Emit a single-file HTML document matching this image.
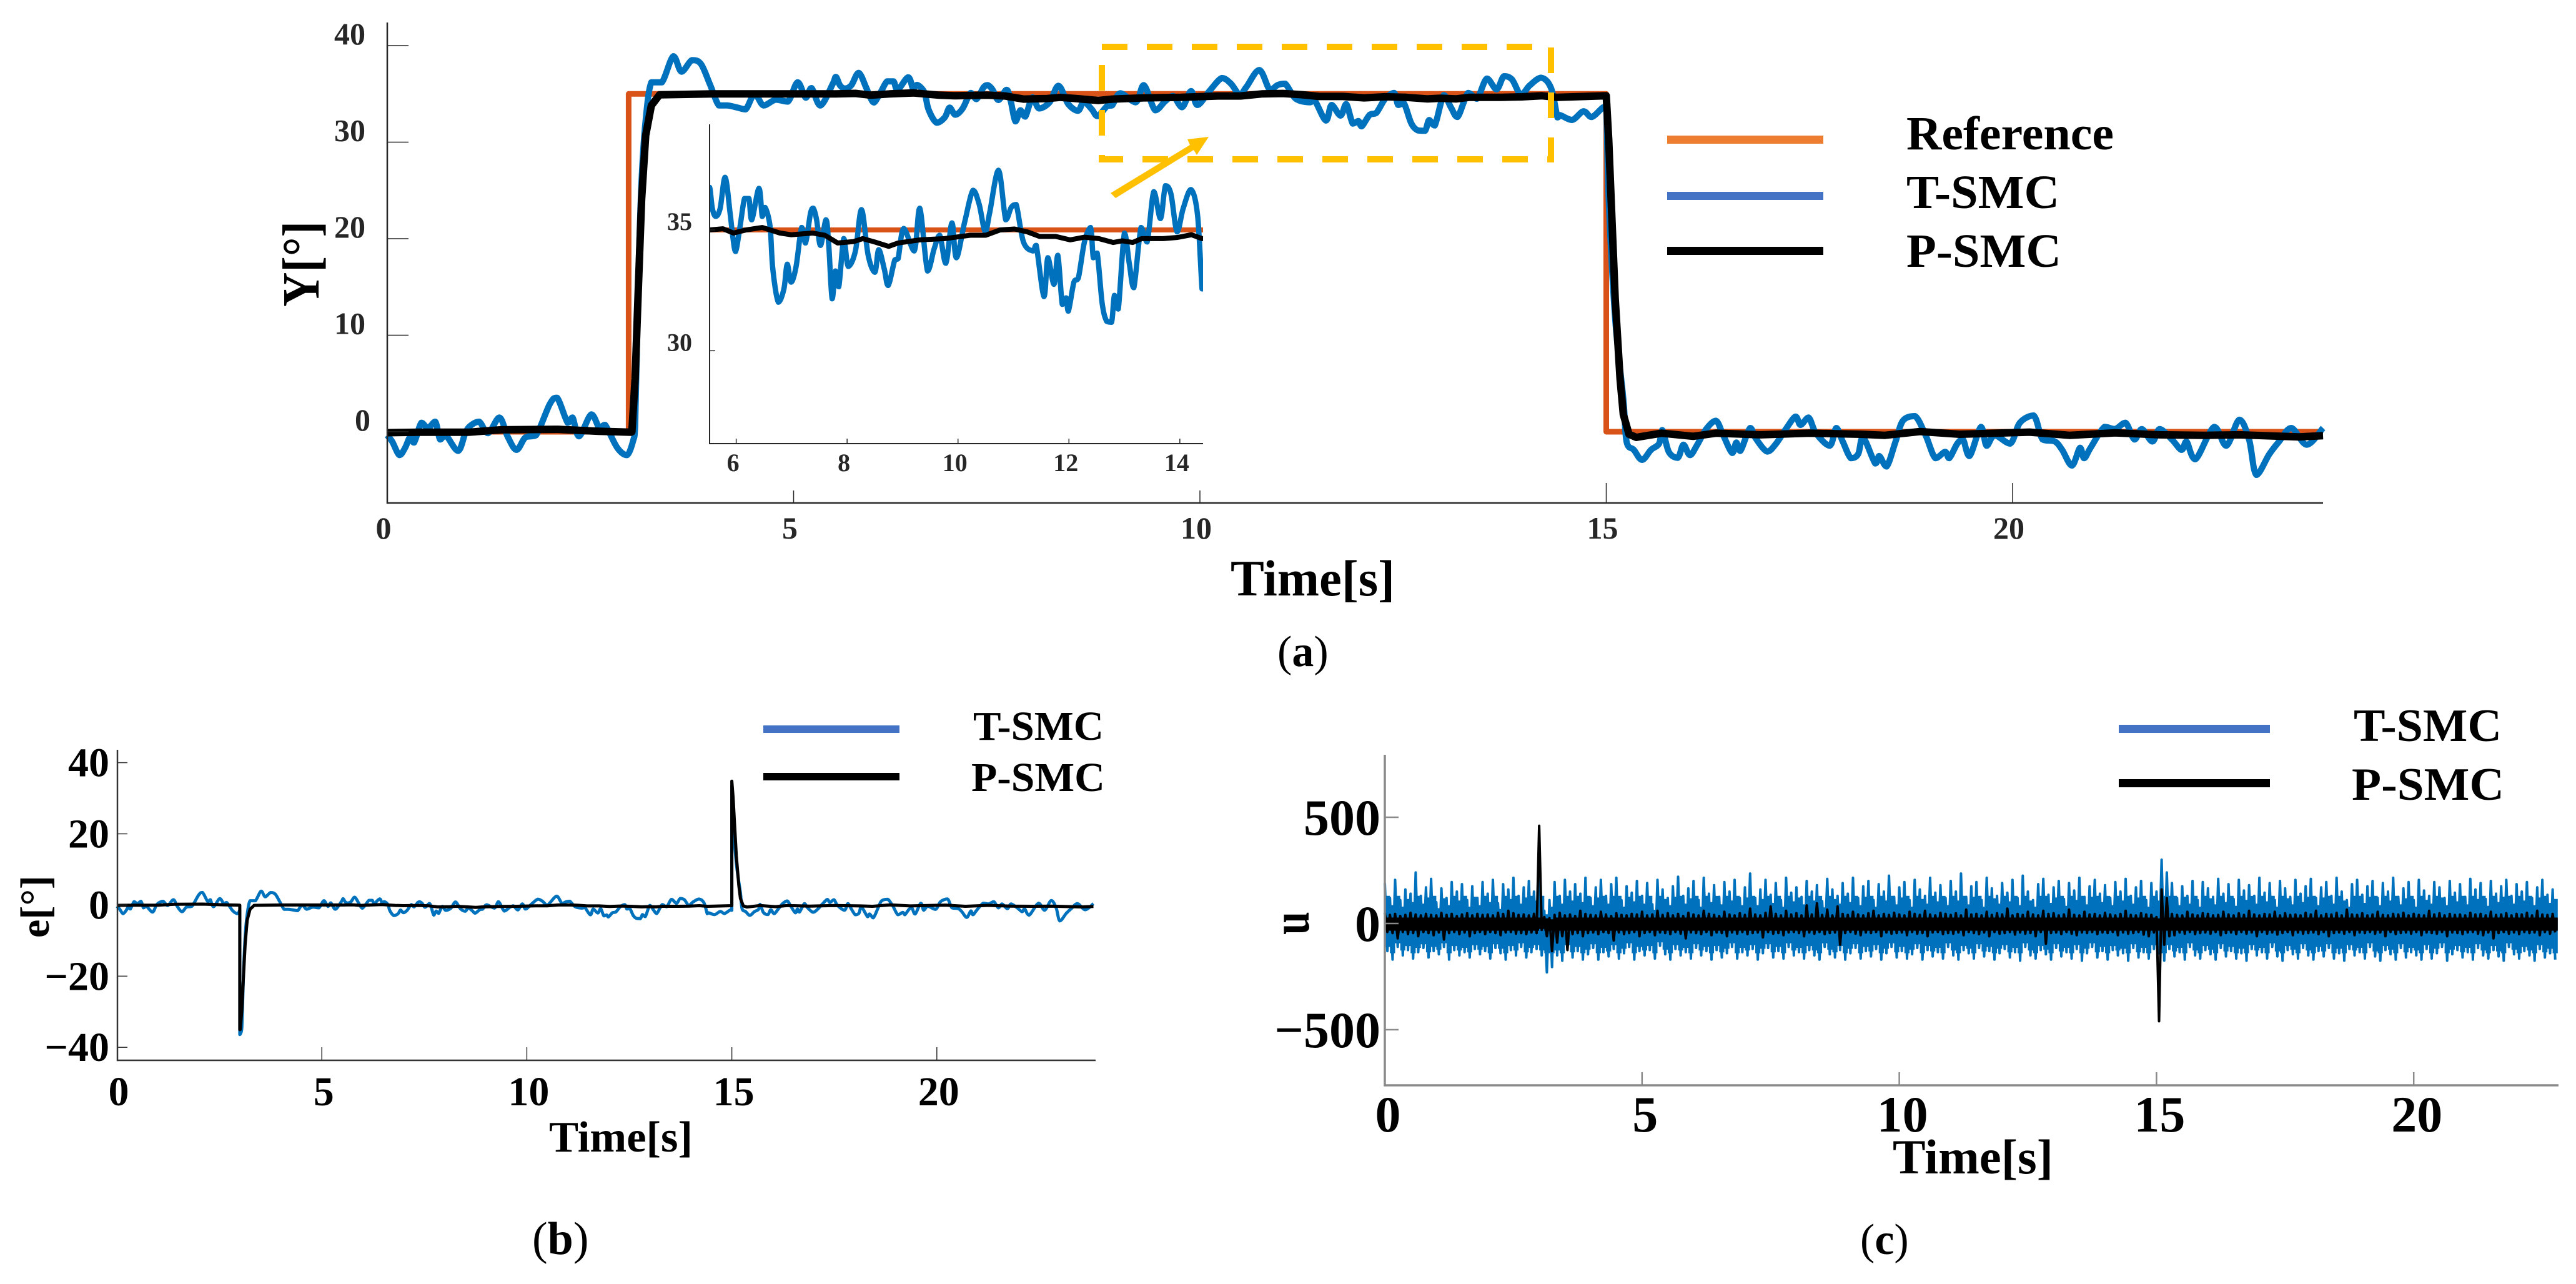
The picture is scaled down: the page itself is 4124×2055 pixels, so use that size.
<!DOCTYPE html>
<html lang="en">
<head>
<meta charset="utf-8">
<title>Y, error and control signal responses for T-SMC and P-SMC</title>
<style>
html,body{margin:0;padding:0;background:#fff;}
svg{display:block;}
text{font-family:"Liberation Serif","Times New Roman",serif;}
.b{font-weight:bold;}
</style>
</head>
<body>
<svg id="figure" xmlns="http://www.w3.org/2000/svg" width="4124" height="2055" viewBox="0 0 4124 2055">
  <rect x="0" y="0" width="4124" height="2055" fill="#fff"/>
  <defs>
    <clipPath id="inset-clip"><rect x="1136" y="199" width="790" height="511"/></clipPath>
  </defs>
  <g id="panel-a"></g>
  <g id="panel-inset"></g>
  <g id="panel-b"></g>
  <g id="panel-c"></g>

  <rect x="1764" y="75" width="719" height="180" fill="none" stroke="#FFC000" stroke-width="10" stroke-dasharray="41 31"/>
  <polygon points="1778,309 1905,232 1901,223 1935,219 1916,248 1911,240 1786,317" fill="#FFC000"/>

  <text class="b" transform="rotate(-90 510 491)" x="510" y="491" font-size="84" textLength="137" lengthAdjust="spacingAndGlyphs" fill="#000">Y[°]</text>
  <text class="b" x="1970" y="953" font-size="82" textLength="263" lengthAdjust="spacingAndGlyphs" fill="#000">Time[s]</text>

  <g>
    <rect x="2669" y="217" width="250" height="13" fill="#ED7D31"/>
    <rect x="2669" y="307" width="250" height="13" fill="#4472C4"/>
    <rect x="2669" y="395" width="250" height="13" fill="#000"/>
    <text class="b" x="3052" y="239" font-size="76" textLength="332" lengthAdjust="spacingAndGlyphs">Reference</text>
    <text class="b" x="3052" y="333" font-size="76" textLength="245" lengthAdjust="spacingAndGlyphs">T-SMC</text>
    <text class="b" x="3052" y="427" font-size="76" textLength="248" lengthAdjust="spacingAndGlyphs">P-SMC</text>
  </g>
  <text x="2045" y="1066" font-size="70">(<tspan class="b">a</tspan>)</text>

  <text class="b" transform="rotate(-90 78 1501)" x="78" y="1501" font-size="66" textLength="100" lengthAdjust="spacingAndGlyphs">e[°]</text>
  <text class="b" x="879" y="1843" font-size="70" textLength="230" lengthAdjust="spacingAndGlyphs">Time[s]</text>
  <g>
    <rect x="1222" y="1161" width="218" height="12" fill="#4472C4"/>
    <rect x="1222" y="1237" width="218" height="12" fill="#000"/>
    <text class="b" x="1558" y="1184" font-size="66" textLength="209" lengthAdjust="spacingAndGlyphs">T-SMC</text>
    <text class="b" x="1555" y="1266" font-size="66" textLength="214" lengthAdjust="spacingAndGlyphs">P-SMC</text>
  </g>
  <text x="852" y="2007" font-size="74">(<tspan class="b">b</tspan>)</text>

  <text class="b" transform="rotate(-90 2095 1496)" x="2095" y="1496" font-size="86" textLength="37" lengthAdjust="spacingAndGlyphs">u</text>
  <text class="b" x="3030" y="1878" font-size="78" textLength="257" lengthAdjust="spacingAndGlyphs">Time[s]</text>
  <g>
    <rect x="3392" y="1160" width="242" height="13" fill="#4472C4"/>
    <rect x="3392" y="1247" width="242" height="13" fill="#000"/>
    <text class="b" x="3768" y="1186" font-size="74" textLength="237" lengthAdjust="spacingAndGlyphs">T-SMC</text>
    <text class="b" x="3765" y="1280" font-size="74" textLength="244" lengthAdjust="spacingAndGlyphs">P-SMC</text>
  </g>
  <text x="2978" y="2007" font-size="70">(<tspan class="b">c</tspan>)</text>
</svg>

<script>
// ---- Reference step ----
const refTimes = [0, 2.97, 2.97, 15, 15, 23.82];
const refValues = [0, 0, 35, 35, 0, 0];

// ---- T-SMC response (angle, degrees) ----
const tsmcTimes = [0,.06,.15,.22,.28,.33,.42,.5,.59,.65,.72,.87,.96,1.02,1.13,1.24,1.38,1.48,1.59,1.7,1.83,2,2.09,2.22,2.28,2.36,2.51,2.61,2.68,2.83,2.95,3.03,
3.05,3.09,3.13,3.18,3.25,3.38,3.52,3.62,3.75,3.86,3.97,4.08,4.19,4.3,4.41,4.52,4.63,4.78,4.93,5.05,5.15,5.22,5.33,5.48,
5.52,5.57,5.63,5.71,5.8,5.89,5.94,5.99,6.07,6.15,6.23,6.28,6.41,6.47,6.52,6.61,6.66,6.76,6.86,6.92,6.99,7.08,7.18,7.25,7.34,7.39,7.45,7.52,7.62,7.67,7.73,7.79,7.85,7.94,8.02,8.15,8.26,8.38,8.5,8.57,8.67,8.74,8.86,8.92,9.02,9.21,9.31,9.45,9.57,9.67,9.78,9.89,9.97,10.12,10.27,10.38,10.49,10.57,10.73,10.86,10.96,11.05,11.18,11.35,11.41,11.55,11.62,11.73,11.8,11.88,11.95,11.99,12.09,12.17,12.28,12.39,12.44,12.51,12.6,12.68,12.77,12.82,12.89,13,13.09,13.17,13.3,13.41,13.53,13.65,13.74,13.84,13.95,14.06,14.2,14.32,14.4,
14.43,14.58,14.72,14.82,14.96,15,15.03,15.11,15.21,15.25,15.34,15.44,15.55,15.65,15.69,15.77,15.88,15.95,16.03,16.12,16.23,16.35,16.44,16.55,16.6,16.65,16.77,16.84,16.98,17.09,17.21,17.33,17.39,17.49,17.58,17.75,17.83,17.91,18.01,18.1,18.16,18.31,18.36,18.45,18.56,18.65,18.8,18.93,19.05,19.17,19.22,19.32,19.39,19.47,19.61,19.68,19.78,19.97,20.09,20.26,20.37,20.52,20.61,20.73,20.83,20.88,20.96,21.13,21.26,21.39,21.5,21.59,21.72,21.81,21.96,22.08,22.14,22.25,22.48,22.63,22.79,22.91,23,23.16,23.28,23.43,23.62,23.82];
const tsmcValues = [-.37,-1.01,-2.42,-1.66,-.58,-1.12,.93,.39,1.04,-.8,-.37,-1.98,-.15,.6,1.04,-.15,1.47,-.47,-1.88,-.58,-.37,2.87,3.52,.93,1.47,-.47,1.79,.39,.71,-1.66,-2.42,-.8,
.57,15.8,26.1,32.3,36.2,36.2,38.9,37.3,38.5,38.1,36,33.8,33.8,33.6,33.4,35,33.8,34.4,34.2,36.2,34.6,35.6,33.8,36,
36.76,35.89,35.56,35.89,37.18,35.7,34.69,34.11,35.15,36.3,36.3,35.42,36.72,35.56,35.93,35.15,33.39,32.01,32.56,33.58,32.84,33.49,35.1,34.46,35.7,35.9,35.42,34.36,35.42,34.32,32.15,33.3,32.65,34.64,33.49,34.13,35.84,33.95,33.25,34.18,33.39,32.7,33.76,33.81,35.06,34.13,35.9,33.3,34.22,34.78,33.62,35.29,33.85,35.33,36.64,36.07,34.92,35.7,37.47,35.42,35.93,36.05,34.5,34.13,34.36,32.24,33.85,32.75,33.95,31.92,32.19,31.64,32.84,33.02,34.5,35.1,33.85,34.04,31.96,31.22,31.18,32.29,31.73,34.87,33.58,32.61,35.1,34.5,36.58,35.47,36.83,36.49,34.92,35.89,36.67,35.61,32.56,
32.8,32.3,33.2,32.6,33.6,33.5,24.1,11.7,3.4,-1.01,-1.88,-2.91,-1.88,-1.23,.17,-2.09,-2.7,-1.34,-2.42,-1.34,.28,1.14,-.37,-2.2,-1.12,-1.98,.39,-.69,-2.05,-1.23,.28,1.57,.71,1.47,-.15,-1.45,.39,-1.01,-2.74,-2.31,-.58,-3.28,-2.52,-3.6,-1.01,1.14,1.62,-.37,-2.74,-2.09,-2.74,-1.23,-.8,-2.52,.5,-1.45,-.37,-1.23,.93,1.68,-.8,-1.01,-1.88,-3.5,-1.66,-2.74,-1.66,.5,.28,.93,-.8,.28,-1.01,.28,-.8,-1.88,-1.01,-2.85,.5,-1.45,1.25,-.8,-4.47,-2.31,-1.01,.39,-1.34,.39];

// ---- P-SMC response (angle, degrees) ----
const psmcTimes = [0,.4,1,1.4,2.1,2.6,3,3.01,3.05,3.09,3.13,3.18,3.25,3.35,4,5,5.52,5.76,5.95,6.18,6.47,6.79,6.99,7.38,7.6,7.83,8.12,8.28,8.5,8.75,8.92,9.31,9.76,10.22,10.5,10.76,11.02,11.25,11.47,11.76,12.02,12.28,12.54,12.8,12.96,13.15,13.31,13.7,13.96,14.21,14.4,15,15.03,15.07,15.11,15.17,15.21,15.28,15.37,15.68,16.07,16.35,16.9,17.5,18.13,18.43,18.86,19.35,20.21,20.7,21.26,21.81,22.36,22.79,23.52,23.82];
const psmcValues = [-.1,-.05,-.05,.2,.25,.05,-.05,0,5.5,15,24.1,30.7,33.8,34.9,35,35,35,35.05,34.87,35,35.1,34.87,34.8,34.87,34.78,34.46,34.52,34.64,34.5,34.32,34.46,34.59,34.64,34.78,34.78,35,35.04,34.92,34.73,34.73,34.59,34.7,34.64,34.48,34.55,34.48,34.64,34.64,34.69,34.8,34.64,34.8,30.3,22,13.8,5.5,1.8,-.26,-.58,-.15,-.47,-.15,-.32,-.15,-.26,-.37,.02,-.26,-.04,-.37,-.11,-.32,-.37,-.32,-.54,-.41];

// ---- Panel (c) control signal, sampled every uStep seconds ----
const uStep = 0.1;
const uBlueTop = [190,120,205,110,160,140,240,130,170,210,100,165,120,195,150,185,110,175,120,195,
140,205,95,185,160,215,130,170,200,150,205,60,110,195,130,205,150,185,140,215,
120,170,205,130,185,215,110,175,145,200,130,190,90,205,160,120,175,220,130,165,
200,110,215,140,180,125,195,150,205,120,170,235,120,160,205,135,190,110,215,145,
170,125,200,150,180,105,210,160,130,190,140,215,120,175,200,110,185,150,225,125,
170,195,110,205,160,130,215,145,180,120,200,150,235,125,175,195,110,215,165,130,
190,145,205,120,225,150,110,185,210,135,170,200,115,190,155,215,125,175,205,140,
180,120,195,150,210,130,170,200,110,190,150,300,240,190,120,175,130,200,110,195,
165,125,210,140,185,115,205,155,180,130,215,145,190,110,200,165,125,205,140,175,
210,120,170,195,130,215,150,110,185,205,135,175,200,120,190,150,215,125,165,195,
110,205,155,130,195,170,120,200,145,185,125,210,160,190,115,200,140,175,205,130,
185,150,195,120,170,205,135,160];
const uBlueBottom = [-130,-170,-110,-150,-125,-165,-135,-115,-160,-130,-145,-110,-170,-125,-150,-135,-160,-120,-145,-130,
-165,-115,-140,-170,-125,-150,-110,-160,-135,-120,-150,-230,-205,-150,-175,-120,-160,-130,-170,-145,
-115,-170,-135,-155,-120,-165,-140,-110,-170,-130,-150,-125,-165,-105,-145,-170,-120,-150,-135,-165,
-115,-150,-130,-170,-125,-160,-140,-110,-165,-135,-150,-120,-170,-140,-115,-160,-130,-165,-110,-150,
-135,-165,-125,-150,-170,-110,-145,-160,-125,-170,-140,-115,-165,-130,-155,-120,-170,-140,-110,-160,
-130,-165,-145,-115,-170,-125,-155,-135,-165,-110,-150,-170,-125,-140,-165,-115,-155,-130,-170,-140,
-120,-160,-135,-175,-110,-150,-165,-125,-145,-170,-115,-155,-135,-165,-120,-175,-140,-110,-160,-130,
-170,-125,-150,-140,-175,-115,-160,-135,-165,-120,-140,-175,-120,-155,-135,-170,-110,-150,-165,-125,
-145,-170,-115,-155,-130,-165,-140,-175,-120,-150,-135,-165,-110,-155,-175,-125,-145,-165,-115,-150,
-170,-130,-155,-115,-165,-140,-175,-120,-150,-135,-165,-110,-155,-175,-125,-145,-170,-115,-160,-135,
-150,-170,-120,-165,-140,-110,-175,-145,-125,-160,-135,-170,-115,-150,-165,-125,-155,-175,-110,-145,
-165,-130,-150,-175,-120,-160,-140,-170];
const uBlackTop = [50,40,45,35,40,50,42,38,45,40,38,50,40,45,35,42,48,38,45,40,
42,38,50,45,60,48,40,42,38,45,460,30,25,40,50,38,42,35,60,45,
40,38,55,42,35,48,40,38,45,42,55,38,42,60,40,48,38,45,35,50,
42,38,60,45,40,35,55,42,38,48,40,70,42,38,50,80,45,38,60,42,
48,38,85,42,95,40,65,38,80,45,40,55,42,38,48,60,38,45,40,50,
42,38,55,45,40,60,42,38,50,45,40,48,38,65,42,45,38,55,40,48,
42,70,38,45,40,55,42,38,60,45,48,38,42,65,40,38,55,42,45,38,
50,42,38,45,60,40,38,48,42,40,30,160,120,45,40,38,55,42,38,48,
45,38,40,55,42,38,48,40,60,42,38,45,42,55,38,48,40,42,38,50,
42,60,38,45,42,50,38,65,42,40,48,38,42,55,40,38,45,42,50,38,
45,40,38,60,42,48,38,45,40,42,38,50,42,45,38,55,40,42,48,38,
45,42,50,38,60,42,40,45];
const uBlackBottom = [-40,-45,-70,-40,-50,-45,-60,-40,-45,-55,-42,-75,-45,-40,-50,-42,-60,-45,-40,-50,
-40,-45,-55,-42,-40,-48,-45,-50,-42,-45,-30,-60,-130,-90,-60,-125,-50,-45,-60,-45,
-42,-50,-40,-45,-80,-42,-50,-45,-40,-60,-45,-40,-55,-42,-45,-50,-40,-48,-70,-42,
-45,-50,-40,-55,-42,-45,-60,-42,-48,-40,-50,-45,-42,-65,-40,-48,-45,-55,-42,-40,
-45,-60,-42,-48,-40,-50,-45,-42,-100,-45,-40,-48,-55,-42,-45,-40,-60,-42,-48,-45,
-42,-55,-40,-48,-45,-60,-42,-40,-50,-45,-48,-42,-55,-40,-45,-50,-42,-60,-40,-48,
-45,-40,-52,-42,-48,-45,-60,-40,-95,-45,-42,-50,-40,-48,-55,-42,-45,-40,-50,-42,
-45,-40,-55,-42,-48,-45,-40,-52,-60,-42,-460,-100,-60,-55,-42,-48,-40,-50,-45,-42,
-48,-40,-55,-45,-42,-50,-40,-48,-42,-60,-40,-48,-42,-52,-45,-40,-55,-42,-48,-45,
-42,-50,-40,-60,-45,-42,-48,-40,-55,-42,-45,-40,-48,-42,-60,-40,-50,-45,-42,-48,
-40,-55,-42,-45,-48,-40,-60,-42,-45,-50,-42,-40,-48,-55,-42,-70,-45,-40,-48,-42,
-50,-40,-45,-42,-55,-40,-48,-42];

// ---- Tick labels ----
const aXTicks = [0, 5, 10, 15, 20];
const aYTicks = [0, 10, 20, 30, 40];
const insetXTicks = [6, 8, 10, 12, 14];
const insetYTicks = [30, 35];
const bXTicks = [0, 5, 10, 15, 20];
const bYTicks = [-40, -20, 0, 20, 40];
const cXTicks = [0, 5, 10, 15, 20];
const cYTicks = [-500, 0, 500];

// ---- Axis functions ----
const xA = t => 620 + 130.1 * t;
const yA = v => 691 - 15.45 * v;
const xI = t => 1178.6 + 88.78 * (t - 6);
const yI = v => 368 - 38.67 * (v - 35);
const xB = t => 187 + 65.64 * t;
const yB = v => 1448.4 - 5.695 * v;
const xC = t => 2217 + 82.36 * t;
const yC = v => 1478 - 0.34 * v;

const NS = 'http://www.w3.org/2000/svg';
function svgEl(tag, parent, attrs) {
  const el = document.createElementNS(NS, tag);
  for (const k in attrs) el.setAttribute(k, attrs[k]);
  parent.appendChild(el);
  return el;
}
function pathFrom(ts, vs, fx, fy) {
  return ts.map((t, i) => (i ? 'L' : 'M') + fx(t).toFixed(1) + ' ' + fy(vs[i]).toFixed(1)).join('');
}
// Rounded curve through the samples, control points clamped to each segment so peaks do not overshoot
function smoothFrom(ts, vs, fx, fy) {
  const pts = ts.map((t, i) => [fx(t), fy(vs[i])]);
  const clamp = (a, lo, hi) => Math.max(lo, Math.min(hi, a));
  let d = 'M' + pts[0][0].toFixed(1) + ' ' + pts[0][1].toFixed(1);
  for (let i = 0; i < pts.length - 1; i++) {
    const p0 = pts[Math.max(i - 1, 0)], p1 = pts[i], p2 = pts[i + 1], p3 = pts[Math.min(i + 2, pts.length - 1)];
    const loY = Math.min(p1[1], p2[1]), hiY = Math.max(p1[1], p2[1]);
    const c1x = clamp(p1[0] + (p2[0] - p0[0]) / 6, p1[0], p2[0]);
    const c1y = clamp(p1[1] + (p2[1] - p0[1]) / 6, loY, hiY);
    const c2x = clamp(p2[0] - (p3[0] - p1[0]) / 6, p1[0], p2[0]);
    const c2y = clamp(p2[1] - (p3[1] - p1[1]) / 6, loY, hiY);
    d += 'C' + c1x.toFixed(1) + ' ' + c1y.toFixed(1) + ' ' + c2x.toFixed(1) + ' ' + c2y.toFixed(1) + ' ' + p2[0].toFixed(1) + ' ' + p2[1].toFixed(1);
  }
  return d;
}
function drawSeries(parent, ts, vs, fx, fy, color, width, name, smooth) {
  const d = smooth ? smoothFrom(ts, vs, fx, fy) : pathFrom(ts, vs, fx, fy);
  const el = svgEl('path', parent, {d: d, fill: 'none', stroke: color, 'stroke-width': width, 'stroke-linejoin': 'round', 'stroke-linecap': 'butt'});
  
  
  return el;
}
function drawAxes(parent, o) {
  const yAxis = svgEl('line', parent, {x1: o.left, x2: o.left, y1: o.top, y2: o.bottom + o.aw / 2, stroke: o.color, 'stroke-width': o.aw});
  
  
  const xAxis = svgEl('line', parent, {x1: o.left, x2: o.right, y1: o.bottom, y2: o.bottom, stroke: o.color, 'stroke-width': o.aw});
  
  
  o.xTicks.forEach(t => {
    const len = o.xLen(t);
    if (t !== 0 || o.tickZero) {
      const tick = svgEl('line', parent, {x1: o.fx(t), x2: o.fx(t), y1: o.bottom - len, y2: o.bottom, stroke: o.color, 'stroke-width': o.tw});
      
      
    }
    const label = svgEl('text', parent, {x: o.fx(t) + o.xDx(t), y: o.xBase(t), 'text-anchor': 'middle', 'font-size': o.fs, 'font-weight': 'bold', fill: o.tc});
    label.textContent = String(t);
    
    
  });
  o.yTicks.forEach(v => {
    const tick = svgEl('line', parent, {x1: o.left, x2: o.left + o.yLen, y1: o.fy(v), y2: o.fy(v), stroke: o.color, 'stroke-width': o.tw});
    
    
    const label = svgEl('text', parent, {x: o.yRight(v), y: o.fy(v) + o.yDy, 'text-anchor': 'end', 'font-size': o.fs, 'font-weight': 'bold', fill: o.tc});
    label.textContent = v < 0 ? '\u2212' + Math.abs(v) : String(v);
    
    
  });
}

// Tracking error derived from the response and the reference step
function errorSeries(ts, vs) {
  const outT = [], outV = [];
  const step = t => (t >= 3 && t < 15) ? 35 : 0;
  const interp = t => {
    for (let i = 1; i < ts.length; i++) if (ts[i] >= t) {
      const f = (t - ts[i - 1]) / ((ts[i] - ts[i - 1]) || 1);
      return vs[i - 1] + f * (vs[i] - vs[i - 1]);
    }
    return vs[vs.length - 1];
  };
  ts.forEach((t, i) => {
    if (i && ts[i - 1] < 3 && t >= 3) { outT.push(3, 3); outV.push(interp(3), interp(3) - 35); }
    if (i && ts[i - 1] < 15 && t >= 15) { outT.push(15, 15); outV.push(interp(15) - 35, interp(15)); }
    outT.push(t);
    outV.push(vs[i] - step(t));
  });
  return [outT, outV];
}
function zigzagTimes(n) {
  const out = [];
  for (let i = 0; i < n; i++) out.push(i * uStep, i * uStep + uStep / 2);
  return out;
}
function zigzagValues(top, bottom) {
  const out = [];
  top.forEach((v, i) => out.push(v, bottom[i]));
  return out;
}
// Solid core of a dense noise band, stepped along the same samples
function bandPath(top, bottom, upper, lower) {
  let d = '';
  top.forEach((v, i) => {
    const y = yC(upper(v)).toFixed(1);
    d += (i ? 'L' : 'M') + xC(i * uStep).toFixed(1) + ' ' + y + 'L' + xC((i + 1) * uStep).toFixed(1) + ' ' + y;
  });
  for (let i = bottom.length - 1; i >= 0; i--) {
    const y = yC(lower(bottom[i])).toFixed(1);
    d += 'L' + xC((i + 1) * uStep).toFixed(1) + ' ' + y + 'L' + xC(i * uStep).toFixed(1) + ' ' + y;
  }
  return d + 'Z';
}

// ---- Panel (a) ----
const pa = document.getElementById('panel-a');
drawSeries(pa, refTimes, refValues, xA, yA, '#D95319', 9, 'series-reference', false);
drawSeries(pa, tsmcTimes, tsmcValues, xA, yA, '#0072BD', 10, 'series-t-smc', true);
drawSeries(pa, psmcTimes, psmcValues, xA, yA, '#000', 12, 'series-p-smc', false);
drawAxes(pa, {left: 620, right: 3719, top: 36, bottom: 805, aw: 2.5, tw: 1.5, color: '#262626', tc: '#262626', fs: 50,
  fx: xA, fy: yA, xTicks: aXTicks, yTicks: aYTicks, tickZero: false,
  xLen: t => t >= 15 ? 32 : 20, xDx: () => -6, xBase: () => 862,
  yLen: 34, yRight: v => v === 0 ? 593 : 585, yDy: -2});

// ---- Inset ----
const pi = document.getElementById('panel-inset');
const insetClip = svgEl('g', pi, {'clip-path': 'url(#inset-clip)'});


drawSeries(insetClip, refTimes, refValues, xI, yI, '#D95319', 8, 'inset-series-reference', false);
drawSeries(insetClip, tsmcTimes, tsmcValues, xI, yI, '#0072BD', 8.5, 'inset-series-t-smc', true);
drawSeries(insetClip, psmcTimes, psmcValues, xI, yI, '#000', 8, 'inset-series-p-smc', false);
drawAxes(pi, {left: 1136, right: 1926, top: 199, bottom: 710, aw: 2, tw: 1.5, color: '#262626', tc: '#262626', fs: 40,
  fx: xI, fy: yI, xTicks: insetXTicks, yTicks: insetYTicks, tickZero: true,
  xLen: () => 8, xDx: () => -5, xBase: () => 754,
  yLen: 9, yRight: () => 1108, yDy: 0});

// ---- Panel (b) ----
const pb = document.getElementById('panel-b');
const eBlue = errorSeries(tsmcTimes, tsmcValues);
const eBlack = errorSeries(psmcTimes, psmcValues);
drawSeries(pb, eBlue[0], eBlue[1], xB, yB, '#0072BD', 5, 'series-error-t-smc', true);
drawSeries(pb, eBlack[0], eBlack[1], xB, yB, '#000', 5, 'series-error-p-smc', false);
drawAxes(pb, {left: 188, right: 1754, top: 1200, bottom: 1697, aw: 2.5, tw: 1.5, color: '#333', tc: '#000', fs: 66,
  fx: xB, fy: yB, xTicks: bXTicks, yTicks: bYTicks, tickZero: false,
  xLen: () => 21, xDx: () => 3, xBase: () => 1769,
  yLen: 16, yRight: () => 175, yDy: 22});

// ---- Panel (c) ----
const pc = document.getElementById('panel-c');
const blueCore = svgEl('path', pc, {d: bandPath(uBlueTop, uBlueBottom, v => Math.min(v * 0.72, 130), v => Math.max(v * 0.85, -140)), fill: '#0072BD'});


drawSeries(pc, zigzagTimes(uBlueTop.length), zigzagValues(uBlueTop, uBlueBottom), xC, yC, '#0072BD', 4, 'series-control-t-smc', false);
const blackCore = svgEl('path', pc, {d: bandPath(uBlackTop, uBlackBottom, v => Math.min(v, 35) * 0.8, v => Math.max(v, -40) * 0.85), fill: '#000'});


drawSeries(pc, zigzagTimes(uBlackTop.length), zigzagValues(uBlackTop, uBlackBottom), xC, yC, '#000', 4, 'series-control-p-smc', false);
drawAxes(pc, {left: 2217, right: 4096, top: 1208, bottom: 1737, aw: 3.5, tw: 2.5, color: '#8a8a8a', tc: '#000', fs: 82,
  fx: xC, fy: yC, xTicks: cXTicks, yTicks: cYTicks, tickZero: true,
  xLen: () => 21, xDx: () => 5, xBase: () => 1811,
  yLen: 22, yRight: () => 2210, yDy: 28});
</script>
</body>
</html>
